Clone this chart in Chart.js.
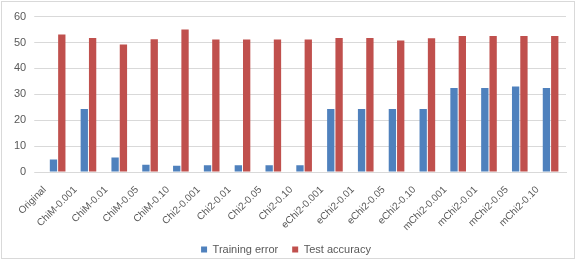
<!DOCTYPE html>
<html>
<head>
<meta charset="utf-8">
<script src="https://cdn.jsdelivr.net/npm/chart.js@4/dist/chart.umd.min.js"></script>
<style>
  html, body { margin: 0; padding: 0; background: #fff; }
  #frame {
    position: absolute; left: 1px; top: 1px;
    width: 574px; height: 258px;
    border: 1px solid #d9d9d9; box-sizing: border-box;
  }
  #frame canvas { display: block; }
</style>
</head>
<body>
<div id="frame"><canvas id="chart"></canvas></div>
<script>
// Categories and series values
const categories = [
  'Original', 'ChiM-0.001', 'ChiM-0.01', 'ChiM-0.05', 'ChiM-0.10',
  'Chi2-0.001', 'Chi2-0.01', 'Chi2-0.05', 'Chi2-0.10',
  'eChi2-0.001', 'eChi2-0.01', 'eChi2-0.05', 'eChi2-0.10',
  'mChi2-0.001', 'mChi2-0.01', 'mChi2-0.05', 'mChi2-0.10'
];
const trainingError = [4.8, 24.3, 5.6, 2.8, 2.4, 2.6, 2.6, 2.6, 2.6, 24.3, 24.3, 24.3, 24.3, 32.4, 32.4, 33.0, 32.4];
const testAccuracy = [53.1, 51.7, 49.2, 51.3, 55.0, 51.2, 51.2, 51.2, 51.2, 51.7, 51.7, 50.8, 51.6, 52.5, 52.5, 52.5, 52.5];
const yTicks = [0, 10, 20, 30, 40, 50, 60];

const textColor = '#595959';
const fontFamily = "'Liberation Sans', sans-serif";

// keep the legend strip short while its items stay spread out
const tightLegend = {
  id: 'tightLegend',
  afterInit(chart) {
    const legend = chart.legend;
    const fit = legend.fit;
    legend.fit = function() {
      fit.call(this);
      this.height = 28;
    };
  }
};

const ctx = document.getElementById('chart').getContext('2d');
new Chart(ctx, {
  type: 'bar',
  data: {
    labels: categories,
    datasets: [
      {
        label: 'Training error',
        data: trainingError,
        backgroundColor: '#4f81bd',
        categoryPercentage: 0.54,
        barPercentage: 0.88
      },
      {
        label: 'Test accuracy',
        data: testAccuracy,
        backgroundColor: '#c0504d',
        categoryPercentage: 0.54,
        barPercentage: 0.88
      }
    ]
  },
  plugins: [tightLegend],
  options: {
    responsive: true,
    maintainAspectRatio: false,
    animation: false,
    layout: { padding: { left: 4, right: 8, top: 8, bottom: 0 } },
    plugins: {
      legend: {
        position: 'bottom',
        labels: {
          color: textColor,
          font: { family: fontFamily, size: 11 },
          boxWidth: 6,
          boxHeight: 6,
          padding: 14
        }
      },
      tooltip: { enabled: false }
    },
    scales: {
      x: {
        grid: { display: false },
        border: { color: '#d9d9d9' },
        afterFit: axis => {
          axis.height = 58;
          // let the slanted labels run past the axis box
          axis._computeLabelArea = () => undefined;
        },
        ticks: {
          color: textColor,
          font: { family: fontFamily, size: 10 },
          minRotation: 45,
          maxRotation: 45,
          autoSkip: false,
          padding: 4,
          labelOffset: -13
        }
      },
      y: {
        min: 0,
        max: 60,
        afterBuildTicks: axis => { axis.ticks = yTicks.map(v => ({ value: v })); },
        grid: { color: '#d9d9d9' },
        border: { display: false },
        ticks: {
          color: textColor,
          font: { family: fontFamily, size: 11 },
          padding: 8
        }
      }
    }
  }
});
</script>
</body>
</html>
